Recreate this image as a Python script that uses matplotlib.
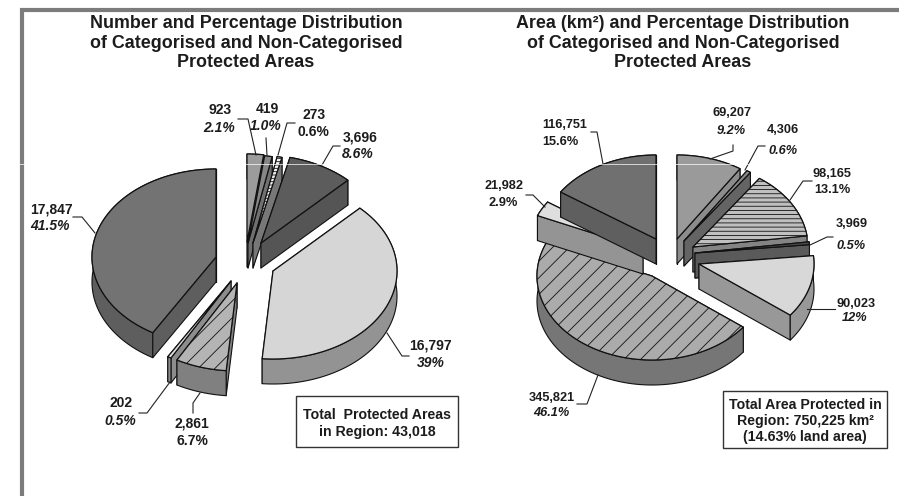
import numpy as np
import matplotlib
matplotlib.use('Agg')
import matplotlib.pyplot as plt
from matplotlib.patches import Polygon, Rectangle

plt.rcParams['font.family'] = ['Liberation Sans', 'DejaVu Sans']
plt.rcParams['hatch.linewidth'] = 0.6

# left pie
counts = [923, 419, 273, 3696, 16797, 2861, 202, 17847]
count_pct = ['2.1%', '1.0%', '0.6%', '8.6%', '39%', '6.7%', '0.5%', '41.5%']
count_italic = [True, True, False, True, True, False, True, True]

# right pie
areas = [69207, 4306, 98165, 3969, 90023, 345821, 21982, 116751]
area_pct = ['9.2%', '0.6%', '13.1%', '0.5%', '12%', '46.1%', '2.9%', '15.6%']
area_italic = [True, True, False, True, True, True, False, False]

# pie layout, in pixels: where each exploded slice has its tip
count_tips = [(247, 242), (248, 243), (253, 243), (261, 243), (273, 271), (237, 283), (231, 281), (216, 257)]
area_tips = [(677, 239), (684, 241), (693, 247), (695, 253), (699, 264), (652, 276), (643, 249), (656, 239)]
count_order = [0, 1, 2, 3, 4, 6, 5, 7]
area_order = [5, 0, 1, 2, 3, 4, 6, 7]

# (top colour, side colour, hatch)
count_styles = [('#9c9c9c', '#8a8a8a', None), ('#868686', '#707070', None), ('#f2f2f2', '#777777', '-----'),
                ('#5c5c5c', '#555555', None), ('#d6d6d6', '#939393', None), ('#b4b4b4', '#808080', '//'),
                ('#dddddd', '#8c8c8c', None), ('#737373', '#5e5e5e', None)]
area_styles = [('#9a9a9a', '#8c8c8c', None), ('#8c8c8c', '#646464', None), ('#c0c0c0', '#848484', '----'),
               ('#4c4c4c', '#5a5a5a', None), ('#d8d8d8', '#989898', None), ('#ababab', '#767676', '//'),
               ('#dedede', '#949494', None), ('#707070', '#5f5f5f', None)]

count_leaders = [[(238, 119), (248, 119), (256, 155)], [(266, 138), (267, 155)],
                 [(295, 123), (287, 123), (278, 155)], [(340, 146), (333, 146), (322, 165)],
                 [(409, 356), (402, 356), (387, 333)], [(193, 413), (193, 403), (200, 393)],
                 [(139, 413), (147, 413), (170, 382)], [(73, 217), (82, 217), (95, 233)]]
area_leaders = [[(733, 145), (733, 151), (710, 159)], [(765, 146), (758, 146), (745, 170)],
                [(812, 181), (803, 181), (790, 200)], [(833, 237), (827, 237), (810, 245)],
                [(835, 309), (807, 309)], [(577, 404), (587, 404), (598, 375)],
                [(526, 195), (533, 195), (545, 207)], [(591, 132), (597, 132), (603, 164)]]

# label centres: number line, percent line
count_text = [((220, 110), (219, 128)), ((267, 109), (266, 126)), ((314, 115), (313, 132)), ((360, 137), (358, 154)),
              ((430, 346), (431, 363)), ((192, 423), (192, 441)), ((121, 403), (120, 421)), ((51, 209), (50, 226))]
area_text = [((732, 113), (731, 131)), ((783, 130), (783, 151)), ((832, 174), (832, 190)), ((852, 224), (851, 246)),
             ((856, 304), (855, 318)), ((552, 398), (551, 413)), ((504, 186), (503, 203)), ((565, 125), (560, 142))]


def draw_slice(ax, tip, a0, a1, rx, ry, depth, top, side, hatch):
    t = np.radians(np.linspace(a0, a1, max(int(a1 - a0) * 2, 4)))
    x = tip[0] + rx * np.sin(t)
    y = tip[1] - ry * np.cos(t)
    rim = np.column_stack([x, y])
    low = rim + [0, depth]
    tip = np.array(tip, float)
    line = dict(ec='#111111', lw=0.8, joinstyle='round')
    rim_wall = Polygon(np.vstack([rim, low[::-1]]), fc=side, **line)
    # back to front, the top face paints over whatever it hides
    rim_behind = np.cos(t).mean() > 0
    if rim_behind:
        ax.add_patch(rim_wall)
    for end in sorted((rim[0], rim[-1]), key=lambda p: p[1]):
        wall = [tip, end, end + [0, depth], tip + [0, depth]]
        ax.add_patch(Polygon(wall, fc=side, **line))
    if not rim_behind:
        ax.add_patch(rim_wall)
    ax.add_patch(Polygon(np.vstack([[tip], rim]), fc=top, ec='#111111', lw=0.9, hatch=hatch, joinstyle='round'))


def draw_pie(ax, values, tips, styles, rx, ry, depth, order):
    edges = np.concatenate([[0], np.cumsum(values)]) / sum(values) * 360
    for i in order:
        draw_slice(ax, tips[i], edges[i], edges[i + 1], rx, ry, depth, *styles[i])


def draw_labels(ax, values, pct, italic, text_pos, leaders, size):
    for v, p, it, pos, line in zip(values, pct, italic, text_pos, leaders):
        ax.text(*pos[0], f'{v:,}', ha='center', va='center', fontsize=size, fontweight='bold', color='#1c1c1c')
        ax.text(*pos[1], p, ha='center', va='center', fontsize=size, fontweight='bold', color='#1c1c1c',
                style='italic' if it else 'normal')
        xs, ys = zip(*line)
        ax.plot(xs, ys, color='#222222', lw=0.8)


fig = plt.figure(figsize=(8.99, 4.96), dpi=100)
ax = fig.add_axes([0, 0, 1, 1])
ax.set_xlim(0, 899)
ax.set_ylim(496, 0)
ax.axis('off')

# page frame
ax.plot([22, 22, 899], [496, 9.5, 9.5], color='#7c7c7c', lw=3, solid_joinstyle='miter')

title_left = ['Number and Percentage Distribution', 'of Categorised and Non-Categorised', 'Protected Areas']
title_right = ['Area (km²) and Percentage Distribution', 'of Categorised and Non-Categorised', 'Protected Areas']
for i, y in enumerate((28, 48, 67)):
    ax.text(246, y, title_left[i], ha='center', va='baseline', fontsize=12.9, fontweight='bold', color='#1c1c1c')
    ax.text(683, y, title_right[i], ha='center', va='baseline', fontsize=12.9, fontweight='bold', color='#1c1c1c')

draw_pie(ax, counts, count_tips, count_styles, 124, 88, 25, count_order)
draw_pie(ax, areas, area_tips, area_styles, 115, 84, 25, area_order)
draw_labels(ax, counts, count_pct, count_italic, count_text, count_leaders, 10)
draw_labels(ax, areas, area_pct, area_italic, area_text, area_leaders, 9.2)

# totals boxes
ax.add_patch(Rectangle((296, 396), 162, 51, fc='white', ec='#333333', lw=1.0))
ax.text(377, 415, 'Total  Protected Areas', ha='center', va='center', fontsize=10.2, fontweight='bold', color='#1c1c1c')
ax.text(377, 432, 'in Region: 43,018', ha='center', va='center', fontsize=10.2, fontweight='bold', color='#1c1c1c')
ax.add_patch(Rectangle((723, 391), 164, 57, fc='white', ec='#333333', lw=1.0))
for y, s in zip((405, 421, 437), ('Total Area Protected in', 'Region: 750,225 km²', '(14.63% land area)')):
    ax.text(805, y, s, ha='center', va='center', fontsize=10.2, fontweight='bold', color='#1c1c1c')

# scan artefact running across the page
ax.plot([0, 899], [164, 164], color='white', lw=0.5)

fig.savefig('out.png', dpi=100)
